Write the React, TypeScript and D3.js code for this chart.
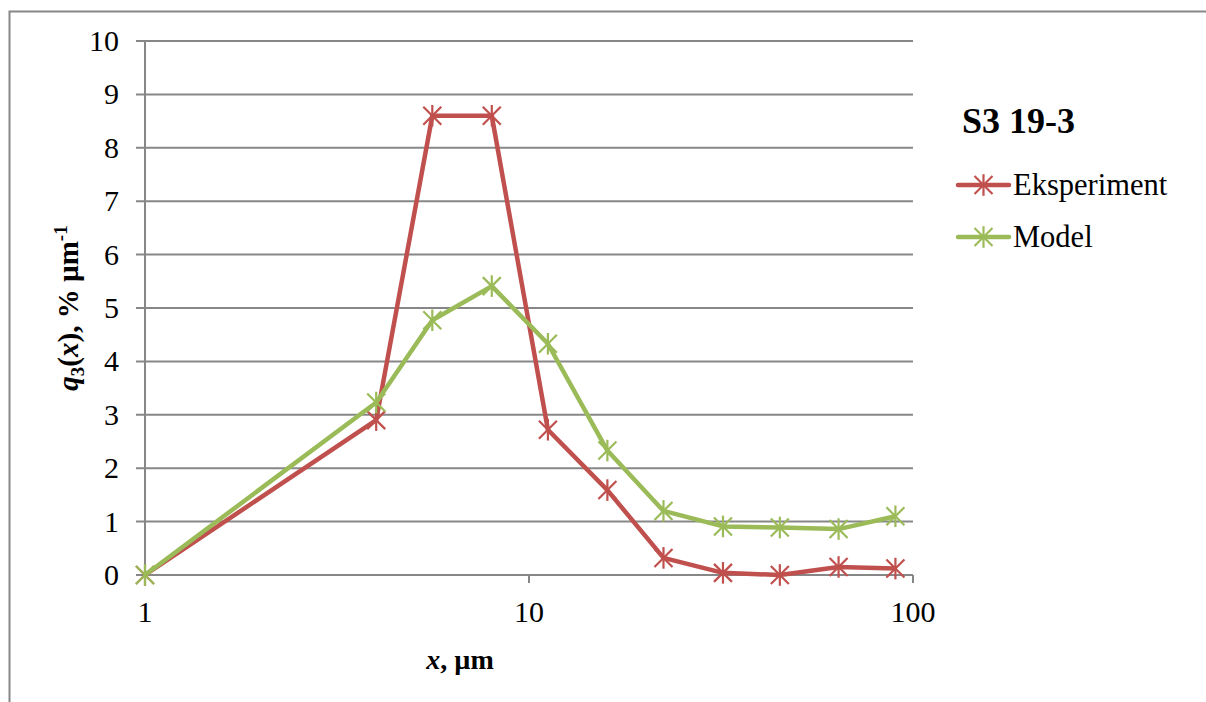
import React from "react";
import * as d3 from "d3";

const sizes = [1, 4, 5.6, 8, 11.2, 16, 22.4, 32, 45, 64, 90];
const eksperiment = [0, 2.9, 8.6, 8.6, 2.72, 1.59, 0.32, 0.04, 0.0, 0.15, 0.12];
const model = [0, 3.23, 4.77, 5.41, 4.33, 2.33, 1.2, 0.91, 0.89, 0.86, 1.1];
const yTicks = [0, 1, 2, 3, 4, 5, 6, 7, 8, 9, 10];
const xTicks = [1, 10, 100];
const seriesNames = ["Eksperiment", "Model"];
const seriesColors = ["#C0504D", "#9BBB59"];
const chartTitle = "S3 19-3";

const W = 1206;
const H = 702;
const FONT = "Liberation Serif, Tinos, Times New Roman, DejaVu Serif, serif";
const GRID = "#878787";

function Star({ x, y, color, r = 9 }: { x: number; y: number; color: string; r?: number }) {
  return (
    <g stroke={color} strokeWidth={2.2}>
      <line x1={x - r} y1={y - r} x2={x + r} y2={y + r} />
      <line x1={x - r} y1={y + r} x2={x + r} y2={y - r} />
      <line x1={x} y1={y - r * 1.2} x2={x} y2={y + r * 1.2} />
    </g>
  );
}

export default function App() {
  const x = d3.scaleLog().domain([1, 100]).range([145, 913]);
  const y = d3.scaleLinear().domain([0, 10]).range([575, 41]);
  const series = [eksperiment, model];
  const line = d3
    .line<number>()
    .x((_, i) => x(sizes[i]))
    .y((d) => y(d));

  return (
    <svg
      width={W}
      height={H}
      style={{ position: "absolute", left: 0, top: 0, background: "#fff", fontFamily: FONT }}
    >
      <rect x={0} y={0} width={W} height={H} fill="#fff" />
      <path d={`M9.5,${H} V11.5 H${W}`} fill="none" stroke={GRID} strokeWidth={2} />

      {yTicks.map((t) => (
        <line key={t} x1={136} x2={913} y1={y(t)} y2={y(t)} stroke={GRID} strokeWidth={2} />
      ))}
      <line x1={x(1)} x2={x(1)} y1={y(10)} y2={y(0)} stroke={GRID} strokeWidth={2} />
      {xTicks.slice(1).map((t) => (
        <line key={t} x1={x(t)} x2={x(t)} y1={y(0)} y2={y(0) + 8} stroke={GRID} strokeWidth={2} />
      ))}

      {yTicks.map((t) => (
        <text key={t} x={119} y={y(t) + 10} textAnchor="end" fontSize={30} fill="#000">
          {t}
        </text>
      ))}
      {xTicks.map((t) => (
        <text key={t} x={x(t)} y={622} textAnchor="middle" fontSize={30} fill="#000">
          {t}
        </text>
      ))}

      {series.map((s, si) => (
        <g key={si}>
          <path d={line(s) || ""} fill="none" stroke={seriesColors[si]} strokeWidth={4.5} strokeLinejoin="round" />
          {s.map((v, i) => (
            <Star key={i} x={x(sizes[i])} y={y(v)} color={seriesColors[si]} />
          ))}
        </g>
      ))}

      <text x={460} y={669} textAnchor="middle" fontSize={28} fontWeight="bold" fill="#000">
        <tspan fontStyle="italic">x</tspan>, µm
      </text>
      <text
        transform={`translate(78,308) rotate(-90)`}
        textAnchor="middle"
        fontSize={29}
        fontWeight="bold"
        fill="#000"
      >
        <tspan fontStyle="italic">q</tspan>
        <tspan fontSize={19} dy={6}>3</tspan>
        <tspan dy={-6}>(</tspan>
        <tspan fontStyle="italic">x</tspan>
        <tspan>), % µm</tspan>
        <tspan fontSize={19} dy={-11}>-1</tspan>
      </text>

      <text x={962} y={133} fontSize={36} fontWeight="bold" fill="#000">
        {chartTitle}
      </text>
      {seriesNames.map((n, i) => {
        const ly = 185 + i * 52;
        return (
          <g key={n}>
            <line x1={958} x2={1009} y1={ly} y2={ly} stroke={seriesColors[i]} strokeWidth={4.5} strokeLinecap="round" />
            <Star x={983.5} y={ly} color={seriesColors[i]} />
            <text x={1013} y={ly + 10} fontSize={30.5} fill="#000">
              {n}
            </text>
          </g>
        );
      })}
    </svg>
  );
}
